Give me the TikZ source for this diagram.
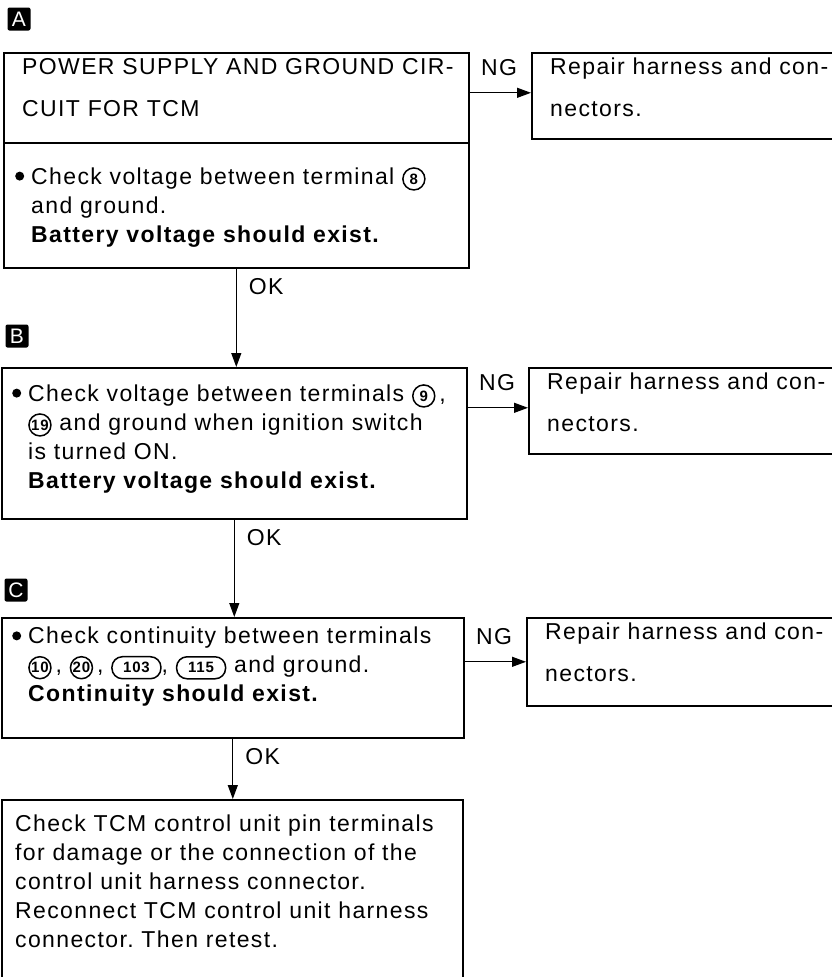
\documentclass[tikz,border=0pt]{standalone}
\usepackage{fontspec}
\setmainfont{Liberation Sans}[LetterSpace=6]
\usetikzlibrary{arrows.meta,positioning}

\newcommand{\pin}[1]{\tikz[baseline=(pn.base)]\node[draw,circle,line width=1.5pt,inner sep=0pt,minimum size=22pt,font=\fontsize{15}{15}\selectfont\bfseries](pn){#1};}
\newcommand{\pinw}[1]{\tikz[baseline=(pn.base)]\node[draw,rounded corners=10.5pt,line width=1.5pt,inner sep=0pt,minimum height=22pt,minimum width=49pt,font=\fontsize{15}{15}\selectfont\bfseries](pn){#1};}
\newcommand{\blt}{\makebox[16pt][l]{\tikz[baseline=-8pt]\fill (4.5pt,0) circle (4.5pt);}}
\newcommand{\ind}{\hspace*{16pt}}

\begin{document}
\frenchspacing
\begin{tikzpicture}[x=1pt,y=-1pt,
  box/.style={draw,line width=1.6pt,anchor=north west,inner sep=0pt},
  txt/.style={anchor=north west,inner sep=0pt,align=left,font=\fontsize{23}{29}\selectfont},
  rtxt/.style={txt,font=\fontsize{23}{42}\selectfont},
  tag/.style={fill=black,text=white,rounded corners=2pt,minimum size=23pt,inner sep=0pt,font=\fontsize{21}{21}\selectfont},
  arr/.style={-{Triangle[length=14pt,width=10pt]},line width=1.2pt},
  lbl/.style={anchor=west,inner sep=0pt,font=\fontsize{23}{24}\selectfont}]
  \clip (0,0) rectangle (832,977);

  % step A
  \node[tag] (tagA) at (19,19) {A};
  \node[box,minimum width=465pt,minimum height=90pt] (ckAhead) at (3,52) {};
  \node[box,minimum width=465pt,minimum height=125pt] (ckAbody) at (3,142) {};
  \node[rtxt] (hdA) at (22,58) {POWER SUPPLY AND GROUND CIR-\\CUIT FOR TCM};
  \node[txt] (tA) at (15,167) {\blt Check voltage between terminal \pin{8}\\
    \ind and ground.\\
    \ind\textbf{Battery voltage should exist.}};
  \node[box,minimum width=309pt,minimum height=86pt] (rep1) at (531,52) {};
  \node[rtxt] (rtA) at (550,58) {Repair harness and con-\\nectors.};

  % step B
  \node[tag] (tagB) at (17,336) {B};
  \node[box,minimum width=465pt,minimum height=151pt] (ckB) at (1,367) {};
  \node[txt] (tB) at (12,384) {\blt Check voltage between terminals \pin{9}\,,\\
    \ind\pin{19} and ground when ignition switch\\
    \ind is turned ON.\\
    \ind\textbf{Battery voltage should exist.}};
  \node[box,minimum width=312pt,minimum height=86pt] (rep2) at (528,367) {};
  \node[rtxt] (rtB) at (547,373) {Repair harness and con-\\nectors.};

  % step C
  \node[tag] (tagC) at (16,590) {C};
  \node[box,minimum width=462pt,minimum height=120pt] (ckC) at (1,617) {};
  \node[txt] (tC) at (12,627) {\blt Check continuity between terminals\\
    \ind\pin{10}\,, \pin{20}\,, \pinw{103}, \pinw{115} and ground.\\
    \ind\textbf{Continuity should exist.}};
  \node[box,minimum width=314pt,minimum height=88pt] (rep3) at (526,617) {};
  \node[rtxt] (rtC) at (545,623) {Repair harness and con-\\nectors.};

  % last step
  \node[box,minimum width=461pt,minimum height=200pt] (fin) at (1,799) {};
  \node[txt] (tF) at (15,815) {Check TCM control unit pin terminals\\
    for damage or the connection of the\\
    control unit harness connector.\\
    Reconnect TCM control unit harness\\
    connector. Then retest.};

  % NG branches
  \draw[arr] ([yshift=3pt]rep1.west -| ckAhead.east) -- ([yshift=3pt]rep1.west)
    node[pos=0,lbl,xshift=11pt,yshift=25pt] (ngA) {NG};
  \draw[arr] ([yshift=3pt]rep2.west -| ckB.east) -- ([yshift=3pt]rep2.west)
    node[pos=0,lbl,xshift=11pt,yshift=25pt] (ngB) {NG};
  \draw[arr] (rep3.west -| ckC.east) -- (rep3.west)
    node[pos=0,lbl,xshift=11pt,yshift=25pt] (ngC) {NG};

  % OK branches
  \draw[arr] (ckAbody.south) -- (ckAbody.south |- ckB.north)
    node[pos=0,lbl,xshift=12pt,yshift=-18pt] (okA) {OK};
  \draw[arr] (ckB.south) -- (ckB.south |- ckC.north)
    node[pos=0,lbl,xshift=12pt,yshift=-18pt] (okB) {OK};
  \draw[arr] (ckC.south) -- (ckC.south |- fin.north)
    node[pos=0,lbl,xshift=12pt,yshift=-18pt] (okC) {OK};
\end{tikzpicture}
\end{document}
